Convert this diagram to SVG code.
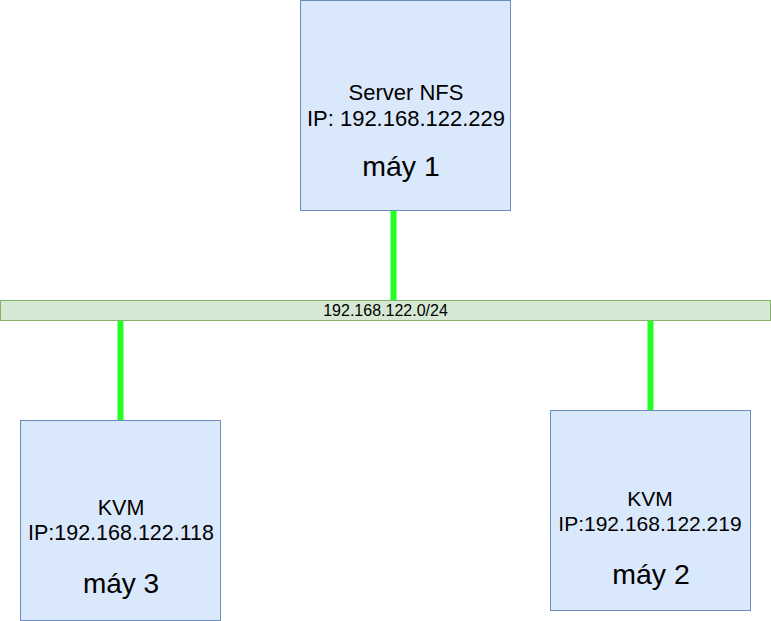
<svg xmlns="http://www.w3.org/2000/svg" width="771" height="621" viewBox="0 0 771 621">
<style>
.box{fill:#dae8fc;stroke:#6c8ebf;stroke-width:1}
.bar{fill:#d5e8d4;stroke:#82b366;stroke-width:1}
.t{font-family:"Liberation Sans",Arial,sans-serif;fill:#000;text-anchor:middle}
.link{stroke:#22ff22;stroke-width:6;fill:none}
</style>
<rect width="771" height="621" fill="#fff"/>
<g id="connectors">
<line class="link" x1="393.5" y1="210.5" x2="393.5" y2="300.5"/>
<line class="link" x1="120.5" y1="320.5" x2="120.5" y2="420.5"/>
<line class="link" x1="650.5" y1="320.5" x2="650.5" y2="410.5"/>
</g>
<g id="network">
<rect class="bar" x="0.5" y="300.5" width="770" height="20"/>
<text class="t" x="385.5" y="316" style="font-size:16px">192.168.122.0/24</text>
</g>
<g id="server">
<rect class="box" x="300.5" y="0.5" width="210" height="210"/>
<text class="t" x="406" y="100" style="font-size:22px">Server NFS</text>
<text class="t" x="406" y="126" style="font-size:22px">IP: 192.168.122.229</text>
<text class="t" x="401" y="176" style="font-size:28.5px">máy 1</text>
</g>
<g id="kvm3">
<rect class="box" x="20.5" y="420.5" width="200" height="200"/>
<text class="t" x="121" y="515" style="font-size:21.5px">KVM</text>
<text class="t" x="121" y="540" style="font-size:21.5px">IP:192.168.122.118</text>
<text class="t" x="121" y="592.5" style="font-size:28px">máy 3</text>
</g>
<g id="kvm2">
<rect class="box" x="550.5" y="410.5" width="200" height="200"/>
<text class="t" x="650" y="506" style="font-size:21px">KVM</text>
<text class="t" x="650" y="530.5" style="font-size:21px">IP:192.168.122.219</text>
<text class="t" x="651" y="583.5" style="font-size:28.5px">máy 2</text>
</g>
</svg>
